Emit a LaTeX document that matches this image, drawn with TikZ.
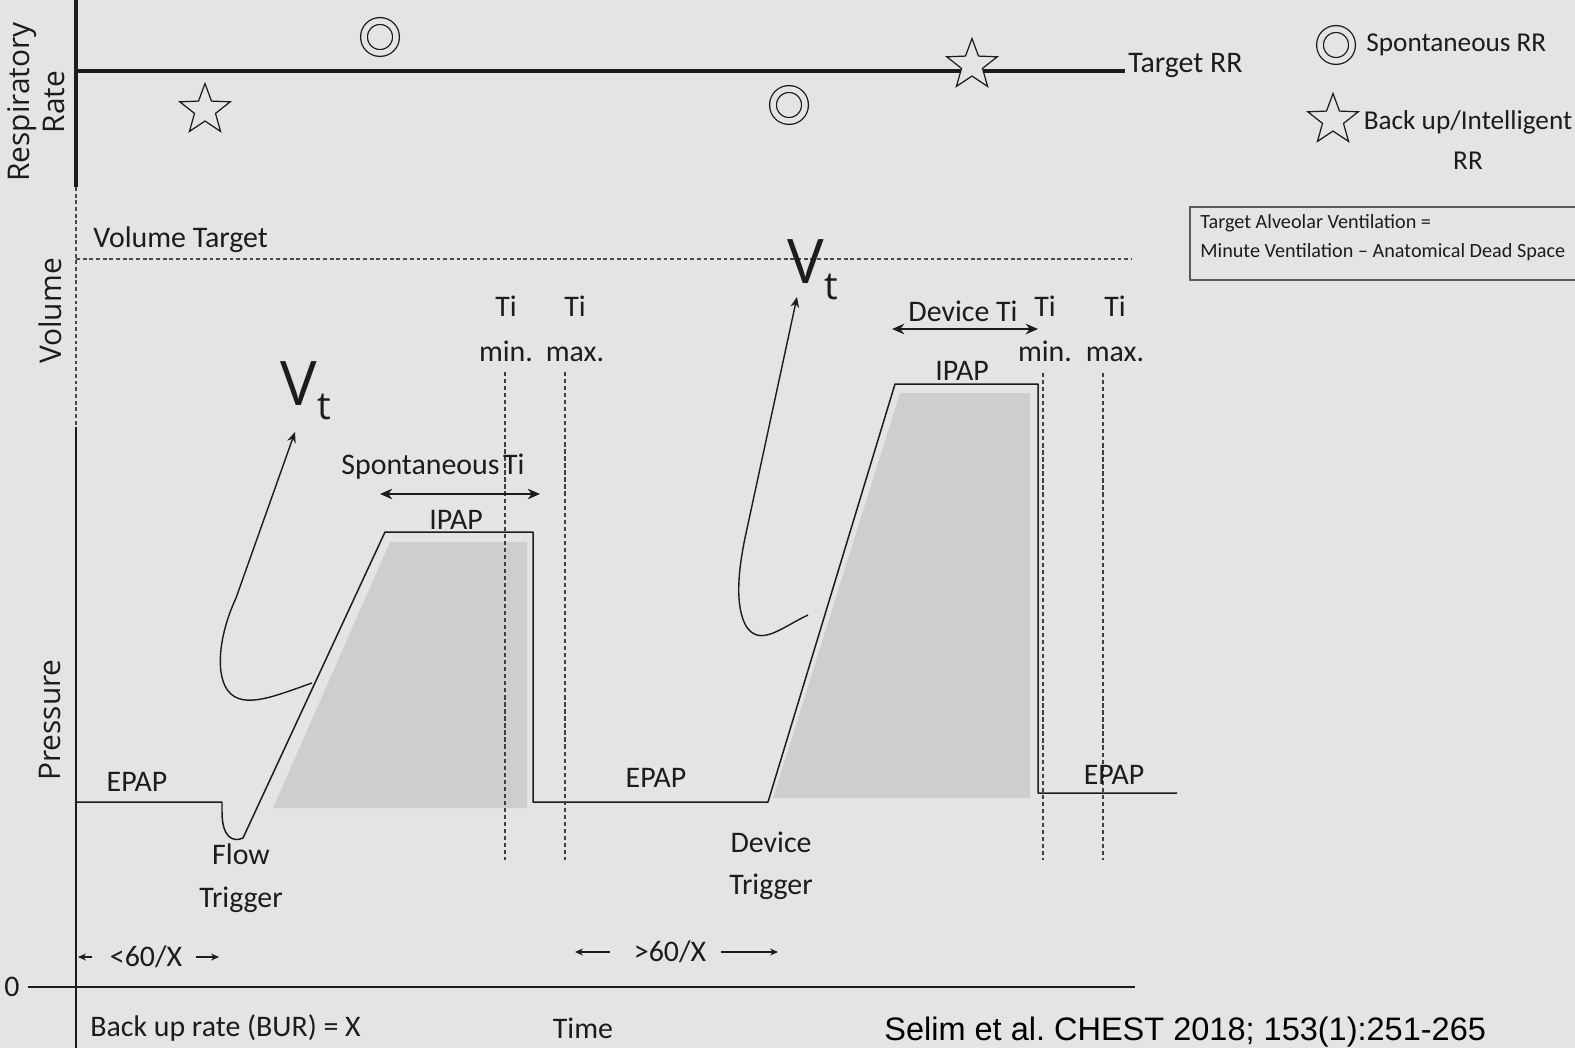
\documentclass[tikz,border=0pt]{standalone}
\usepackage{fontspec}
\setmainfont{Carlito}
\newfontfamily\osans{Open Sans}
\newfontfamily\arialf{Liberation Sans}
\usetikzlibrary{arrows.meta,shapes.geometric}
\definecolor{bgc}{RGB}{228,228,228}
\definecolor{ink}{RGB}{28,28,28}
\definecolor{greyfill}{RGB}{206,206,206}
\definecolor{boxline}{RGB}{90,90,90}
\tikzset{
  lab/.style={font=\fontsize{17}{20}\selectfont, text=ink, inner sep=0pt},
  twolab/.style={font=\fontsize{17}{24.5}\selectfont, text=ink, inner sep=0pt, align=center},
  leglab/.style={font=\fontsize{15.5}{22.7}\selectfont, text=ink, inner sep=0pt, align=center},
  axlab/.style={font=\osans\fontsize{17}{20}\selectfont, text=ink, inner sep=0pt, rotate=90, align=center},
  wave/.style={draw=ink, line width=0.85pt, line join=round},
  thickax/.style={draw=ink, line width=1.8pt},
  thinax/.style={draw=ink, line width=0.75pt},
  volline/.style={draw=ink!80, line width=0.8pt, dash pattern=on 2.2pt off 1.6pt},
  tiline/.style={draw=ink!85, line width=1.1pt, dash pattern=on 2.4pt off 1.6pt},
  dimarrow/.style={draw=ink, line width=1.1pt, {Stealth[length=7pt,width=6pt]}-{Stealth[length=7pt,width=6pt]}},
  sarr/.style={draw=ink, line width=0.8pt, -{Stealth[length=4.5pt,width=4pt]}},
  vtarr/.style={draw=ink, line width=0.8pt, -{Stealth[length=6pt,width=5pt]}},
  dcirc/.style={circle, draw=ink, line width=0.74pt, double=bgc, double distance=0.11cm, minimum size=0.64cm, inner sep=0pt},
  rrstar/.style={star, star points=5, star point ratio=2.4, draw=ink, fill=bgc, line width=0.7pt, minimum size=1.06cm, inner sep=0pt},
  vtlab/.style={font=\osans\fontsize{35}{35}\selectfont, text=ink, inner sep=0pt, anchor=base west}
}
\begin{document}
\begin{tikzpicture}[x=0.02cm,y=-0.02cm]
\fill[bgc] (0,0) rectangle (1575,1048);
\useasboundingbox (0,0) rectangle (1575,1048);

% ---------- Respiratory rate panel ----------
\draw[thickax] (76,0) -- (76,187);
\draw[thickax] (76,71) -- (1125,71);
\node[axlab] (rrlab) at (36,102) {Respiratory\\Rate};
\node[lab, anchor=west] (target) at (1128,65) {Target RR};
\node[dcirc] (c1) at (380,37) {};
\node[dcirc] (c2) at (789,105) {};
\node[rrstar] (s1) at (205,110) {};
\node[rrstar] (s2) at (972,65) {};

% legend
\node[dcirc] (lc) at (1336,45) {};
\node[leglab, anchor=west] (lspont) at (1366,45) {Spontaneous RR};
\node[rrstar] (ls) at (1333,120) {};
\node[leglab] (lback) at (1468,140) {Back up/Intelligent\\RR};
\draw[draw=boxline, line width=0.8pt] (1575,207) -- (1190,207) -- (1190,280) -- (1575,280);
\node[anchor=north west, inner sep=0pt, align=left, text=ink,
      font=\fontsize{11.5}{16.5}\selectfont] (tav) at (1200,214)
  {Target Alveolar Ventilation =\\Minute Ventilation – Anatomical Dead Space};

% ---------- Volume panel ----------
\draw[volline] (76,187) -- (76,427);
\node[axlab] (vollab) at (50,311) {Volume};
\node[lab, anchor=west] (vtarget) at (93,240) {Volume Target};
\draw[volline] (76,259) -- (1132,259);

% ---------- Pressure panel ----------
\draw[thinax] (76,427) -- (76,1048);
\node[axlab] (preslab) at (50,720) {Pressure};

% shaded areas
\fill[greyfill] (273,808) -- (390,542) -- (527,542) -- (527,808) -- cycle;
\fill[greyfill] (773,798) -- (900,393) -- (1030,393) -- (1030,798) -- cycle;

% pressure waveform
\coordinate (p0) at (76,802);
\coordinate (p1) at (222,802);
\coordinate (p2) at (243,838);
\coordinate (p3) at (385,532);
\coordinate (p4) at (533,532);
\coordinate (p5) at (533,802);
\coordinate (p6) at (768,802);
\coordinate (p7) at (895,384);
\coordinate (p8) at (1038,384);
\coordinate (p9) at (1038,793);
\coordinate (p10) at (1177,793);
\draw[wave] (p0) -- (p1) -- (222,812) .. controls (222,836) and (232,843) .. (p2)
  -- (p3) -- (p4) -- (p5) -- (p6) -- (p7) -- (p8) -- (p9) -- (p10);

% Ti dotted lines
\draw[tiline] (505,372) -- (505,860);
\draw[tiline] (565,372) -- (565,860);
\draw[tiline] (1043,373) -- (1043,860);
\draw[tiline] (1103,373) -- (1103,860);

% Ti labels
\node[twolab, font=\fontsize{17}{25.6}\selectfont] (timin1) at (506,329) {Ti\\min.};
\node[twolab, font=\fontsize{17}{25.6}\selectfont] (timax1) at (575,329) {Ti\\max.};
\node[twolab, font=\fontsize{17}{25.6}\selectfont] (timin2) at (1045,329) {Ti\\min.};
\node[twolab, font=\fontsize{17}{25.6}\selectfont] (timax2) at (1115,329) {Ti\\max.};

% Spontaneous Ti
\node[lab] (spti) at (433,467) {Spontaneous\kern2pt Ti};
\coordinate (spA) at (380,494);
\coordinate (spB) at (540,494);
\draw[dimarrow] (spA) -- (spB);
\node[lab] (ipap1) at (456,520) {IPAP};

% Device Ti
\node[lab] (devti) at (963,311) {Device Ti};
\coordinate (dvA) at (892,329);
\coordinate (dvB) at (1038,329);
\draw[dimarrow] (dvA) -- (dvB);
\node[lab] (ipap2) at (962,371) {IPAP};

% EPAP labels
\node[lab] (epap1) at (137,782) {EPAP};
\node[lab] (epap2) at (656,778) {EPAP};
\node[lab] (epap3) at (1114,775) {EPAP};

% Trigger labels
\node[twolab] (flowtrig) at (241,878) {Flow\\Trigger};
\node[twolab, font=\fontsize{17}{24}\selectfont] (devtrig) at (771,866) {Device\\Trigger};

% Vt curves
\node[vtlab] (vt1) at (280,405) {V\kern0.5pt\raisebox{-8.5pt}{\fontsize{22}{22}\selectfont t}};
\node[vtlab] (vt2) at (787,283) {V\kern0.5pt\raisebox{-9.5pt}{\fontsize{22}{22}\selectfont t}};
\coordinate (f1s) at (312,683);
\coordinate (f1e) at (295,432);
\draw[vtarr] (f1s) .. controls (272,697) and (238,712) .. (225,686)
  .. controls (215,665) and (222,628) .. (236,598) -- (f1e);
\coordinate (f2s) at (808,615);
\coordinate (f2e) at (797,297);
\draw[vtarr] (f2s) .. controls (782,627) and (760,648) .. (746,626)
  .. controls (735,606) and (738,572) .. (745,538) -- (f2e);

% ---------- Time axis ----------
\node[lab] (zero) at (12,987) {0};
\draw[draw=ink, line width=1.1pt] (28,987) -- (1135,987);

\node[lab] (lt60) at (146,957) {<60/X};
\coordinate (lt60a) at (92,957);
\coordinate (lt60b) at (78,957);
\coordinate (lt60c) at (196,957);
\coordinate (lt60d) at (219,957);
\draw[sarr] (lt60a) -- (lt60b);
\draw[sarr] (lt60c) -- (lt60d);

\node[lab] (gt60) at (670,952) {>60/X};
\coordinate (gt60a) at (610,952);
\coordinate (gt60b) at (575,952);
\coordinate (gt60c) at (721,952);
\coordinate (gt60d) at (778,952);
\draw[sarr] (gt60a) -- (gt60b);
\draw[sarr] (gt60c) -- (gt60d);

\node[lab, anchor=west] (bur) at (90,1028) {Back up rate (BUR) = X};
\node[lab] (time) at (583,1028) {Time};

\node[anchor=base west, inner sep=0pt, text=black, font=\arialf\fontsize{18.5}{21}\selectfont] (cite) at (884,1040) {Selim et al.\ CHEST 2018; 153(1):251-265};
\end{tikzpicture}
\end{document}
